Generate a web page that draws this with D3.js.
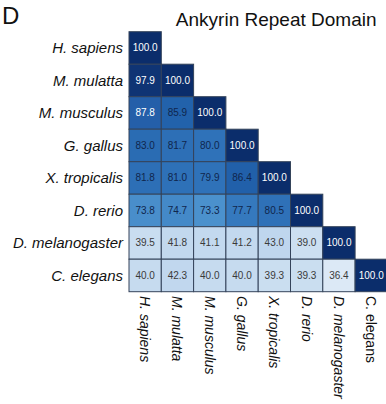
<!DOCTYPE html>
<html><head><meta charset="utf-8">
<script src="https://cdn.jsdelivr.net/npm/d3@7"></script>
<style>body{margin:0;background:#fff}svg{display:block;font-family:"Liberation Sans",Arial,sans-serif}</style>
</head><body>
<svg id="c" width="386" height="404"></svg>
<script>
const species = ["H. sapiens","M. mulatta","M. musculus","G. gallus","X. tropicalis","D. rerio","D. melanogaster","C. elegans"];
const italicCols = [true,true,true,true,true,true,true,false];
// lower-triangle identity values, row i has i+1 entries
const values = [
  [100.0],
  [97.9,100.0],
  [87.8,85.9,100.0],
  [83.0,81.7,80.0,100.0],
  [81.8,81.0,79.9,86.4,100.0],
  [73.8,74.7,73.3,77.7,80.5,100.0],
  [39.5,41.8,41.1,41.2,43.0,39.0,100.0],
  [40.0,42.3,40.0,40.0,39.3,39.3,36.4,100.0]
];
const title = "Ankyrin Repeat Domain";
const panel = "D";

const svg = d3.select("#c");
const x = d3.scaleBand().domain(species).range([129, 387.4]).padding(0);
const y = d3.scaleBand().domain(species).range([31.7, 291.7]).padding(0);
const color = d3.scaleLinear()
  .domain([36.4, 40, 43, 73.3, 77.7, 80, 82, 86.4, 88, 97.9, 100])
  .range(["#dce9f6","#c6dbef","#bfd6ee","#4b91cd","#3579be","#2f72b9","#2d6fb6","#2160aa","#245fa9","#0f3474","#0b2d6b"])
  .clamp(true);

const cells = [];
values.forEach((row,i)=>row.forEach((v,j)=>cells.push({r:species[i], c:species[j], v})));

svg.append("g").selectAll("rect").data(cells).join("rect")
  .attr("x", d=>x(d.c)).attr("y", d=>y(d.r))
  .attr("width", x.bandwidth()).attr("height", y.bandwidth())
  .attr("fill", d=>color(d.v))
  .attr("stroke", "#34435a").attr("stroke-width", 1);

svg.append("g").selectAll("text").data(cells).join("text")
  .attr("x", d=>x(d.c)+x.bandwidth()/2).attr("y", d=>y(d.r)+y.bandwidth()/2)
  .attr("text-anchor","middle").attr("dominant-baseline","central")
  .attr("font-size", 10)
  .attr("fill", d=> d.v>=87 ? "#ffffff" : (d.v>=60 ? "#10264d" : "#3a3a3a"))
  .text(d=>d3.format(".1f")(d.v));

svg.append("g").selectAll("text").data(species).join("text")
  .attr("x", 123).attr("y", d=>y(d)+y.bandwidth()/2)
  .attr("text-anchor","end").attr("dominant-baseline","central")
  .attr("font-size", 15).attr("font-style","italic").attr("fill","#111")
  .text(d=>d);

svg.append("g").selectAll("text").data(species).join("text")
  .attr("transform", d=>`translate(${x(d)+x.bandwidth()/2},296) rotate(90)`)
  .attr("text-anchor","start").attr("dominant-baseline","central")
  .attr("font-size", 14).attr("font-style",(d,i)=>italicCols[i]?"italic":"normal").attr("fill","#111")
  .text(d=>d);

svg.append("text").attr("x", 376.5).attr("y", 25.5).attr("text-anchor","end")
  .attr("font-size", 19).attr("fill","#111").text(title);
svg.append("text").attr("x", 2).attr("y", 23.5).attr("font-size", 24).attr("fill","#111").text(panel);
</script>
</body></html>
